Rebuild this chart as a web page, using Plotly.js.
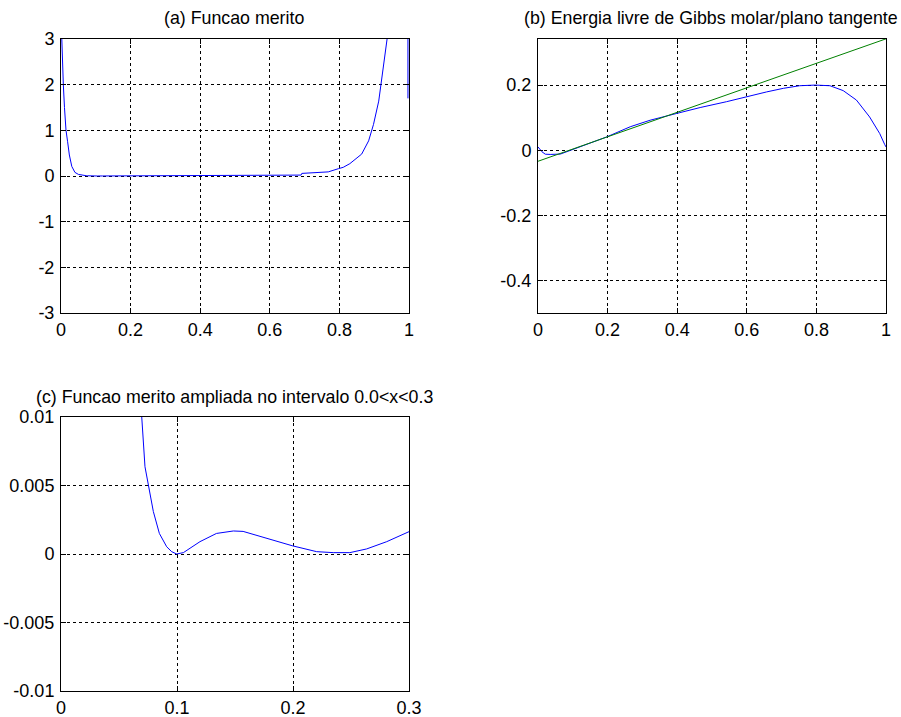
<!DOCTYPE html>
<html>
<head>
<meta charset="utf-8">
<script src="https://cdn.plot.ly/plotly-3.0.1.min.js"></script>
<style>html,body{margin:0;padding:0;background:#fff;}#chart{width:901px;height:717px;}</style>
</head>
<body>
<div id="chart"></div>
<script>
// Merit function (used for panels a and c)
const meritX = [0.001, 0.004, 0.0067, 0.01, 0.0144, 0.019, 0.024, 0.031, 0.04, 0.05, 0.06,
  0.0696, 0.0724, 0.0759, 0.0796, 0.0848, 0.0911, 0.0954, 0.0997, 0.1055, 0.1198, 0.134,
  0.1486, 0.157, 0.177, 0.1994, 0.2204, 0.2347, 0.249, 0.2635, 0.2808, 0.3,
  0.35, 0.4, 0.45, 0.5, 0.55, 0.6, 0.65, 0.69, 0.692, 0.744, 0.768, 0.797, 0.811, 0.830,
  0.864, 0.884, 0.898, 0.913, 0.923, 0.932, 0.937, 0.95, 0.97, 0.99, 0.996, 0.997];
const meritY = [3.3, 2.5, 2.0, 1.5, 1.0, 0.75, 0.46, 0.21, 0.08, 0.035, 0.016,
  0.0100, 0.00637, 0.0049, 0.0031, 0.0015, 0.00053, 0.00017, 0.0, 0.0001, 0.0009, 0.0015,
  0.00168, 0.00165, 0.00114, 0.0006, 0.00017, 0.0001, 0.0001, 0.00037, 0.0009, 0.00163,
  0.004, 0.007, 0.009, 0.011, 0.013, 0.015, 0.018, 0.02, 0.057, 0.07, 0.09, 0.16, 0.19, 0.27,
  0.48, 0.77, 1.13, 1.64, 2.22, 2.73, 3.0, 4.5, 9, 25, 40, 1.7];

// Gibbs molar free energy (panel b)
const gibbsX = [0, 0.0115, 0.021, 0.035, 0.064, 0.093, 0.131, 0.198, 0.265, 0.322, 0.399,
  0.466, 0.542, 0.598, 0.657, 0.705, 0.752, 0.797, 0.839, 0.877, 0.915, 0.953, 0.982, 0.996, 1.0];
const gibbsY = [0.010, -0.005, -0.0123, -0.013, -0.012, 0.0, 0.0154, 0.041, 0.072, 0.092, 0.113,
  0.131, 0.149, 0.164, 0.179, 0.190, 0.198, 0.200, 0.198, 0.183, 0.154, 0.102, 0.051, 0.018, 0.010];

// Tangent plane (panel b)
const tangentX = [0, 1];
const tangentY = [-0.034, 0.342];

// Titles
const titles = [
  "(a) Funcao merito",
  "(b) Energia livre de Gibbs molar/plano tangente",
  "(c) Funcao merito ampliada no intervalo 0.0<x<0.3"
];

// Ticks
const aXTicks = [0, 0.2, 0.4, 0.6, 0.8, 1];
const aXText = ["0", "0.2", "0.4", "0.6", "0.8", "1"];
const aYTicks = [-3, -2, -1, 0, 1, 2, 3];
const aYText = ["-3", "-2", "-1", "0", "1", "2", "3"];
const bXTicks = [0, 0.2, 0.4, 0.6, 0.8, 1];
const bXText = ["0", "0.2", "0.4", "0.6", "0.8", "1"];
const bYTicks = [-0.4, -0.2, 0, 0.2];
const bYText = ["-0.4", "-0.2", "0", "0.2"];
const cXTicks = [0, 0.1, 0.2, 0.3];
const cXText = ["0", "0.1", "0.2", "0.3"];
const cYTicks = [-0.01, -0.005, 0, 0.005, 0.01];
const cYText = ["-0.01", "-0.005", "0", "0.005", "0.01"];

const FONT = "Liberation Sans, Arial, sans-serif";
const FS = 18;
const TFS = 17.8;

const traces = [
  {x: meritX, y: meritY, type: "scatter", mode: "lines", xaxis: "x", yaxis: "y",
   line: {color: "#0000ff", width: 1}},
  {x: gibbsX, y: gibbsY, type: "scatter", mode: "lines", xaxis: "x2", yaxis: "y2",
   line: {color: "#0000ff", width: 1}},
  {x: tangentX, y: tangentY, type: "scatter", mode: "lines", xaxis: "x2", yaxis: "y2",
   line: {color: "#008000", width: 1}},
  {x: meritX, y: meritY, type: "scatter", mode: "lines", xaxis: "x3", yaxis: "y3",
   line: {color: "#0000ff", width: 1}}
];

function ax(domain, range, tv, tt, anchor, isY) {
  return {
    domain: domain, range: range, anchor: anchor,
    tickmode: "array", tickvals: tv, ticktext: tt,
    showline: true, linecolor: "#000", linewidth: 1, mirror: "ticks",
    ticks: "inside", ticklen: 5, tickcolor: "#000", tickwidth: 1,
    showgrid: true, gridcolor: "#000", gridwidth: 1, griddash: "dot",
    zeroline: false, fixedrange: true, automargin: false,
    tickfont: {family: FONT, size: FS, color: "#000"},
    ticklabelstandoff: isY ? 2 : 0
  };
}

const xA = [61/901, 409/901];
const xB = [538/901, 886/901];
const yTop = [1 - 313/717, 1 - 39/717];
const yBot = [1 - 691/717, 1 - 417/717];

const layout = {
  width: 901, height: 717,
  margin: {l: 0, r: 0, t: 0, b: 0},
  paper_bgcolor: "#fff", plot_bgcolor: "#fff",
  showlegend: false,
  xaxis: ax(xA, [0, 1], aXTicks, aXText, "y", false),
  yaxis: ax(yTop, [-3, 3], aYTicks, aYText, "x", true),
  xaxis2: ax(xB, [0, 1], bXTicks, bXText, "y2", false),
  yaxis2: ax(yTop, [-0.5, 0.3415], bYTicks, bYText, "x2", true),
  xaxis3: ax(xA, [0, 0.3], cXTicks, cXText, "y3", false),
  yaxis3: ax(yBot, [-0.01, 0.01], cYTicks, cYText, "x3", true),
  annotations: [
    {text: titles[0], xref: "paper", yref: "paper", x: 233.5/901, y: 1 - 18/717,
     xanchor: "center", yanchor: "middle", showarrow: false, font: {family: FONT, size: TFS, color: "#000"}},
    {text: titles[1], xref: "paper", yref: "paper", x: 711/901, y: 1 - 18/717,
     xanchor: "center", yanchor: "middle", showarrow: false, font: {family: FONT, size: TFS, color: "#000"}},
    {text: titles[2], xref: "paper", yref: "paper", x: 234/901, y: 1 - 397/717,
     xanchor: "center", yanchor: "middle", showarrow: false, font: {family: FONT, size: TFS, color: "#000"}}
  ]
};

Plotly.newPlot("chart", traces, layout, {displayModeBar: false, staticPlot: true});
</script>
</body>
</html>
